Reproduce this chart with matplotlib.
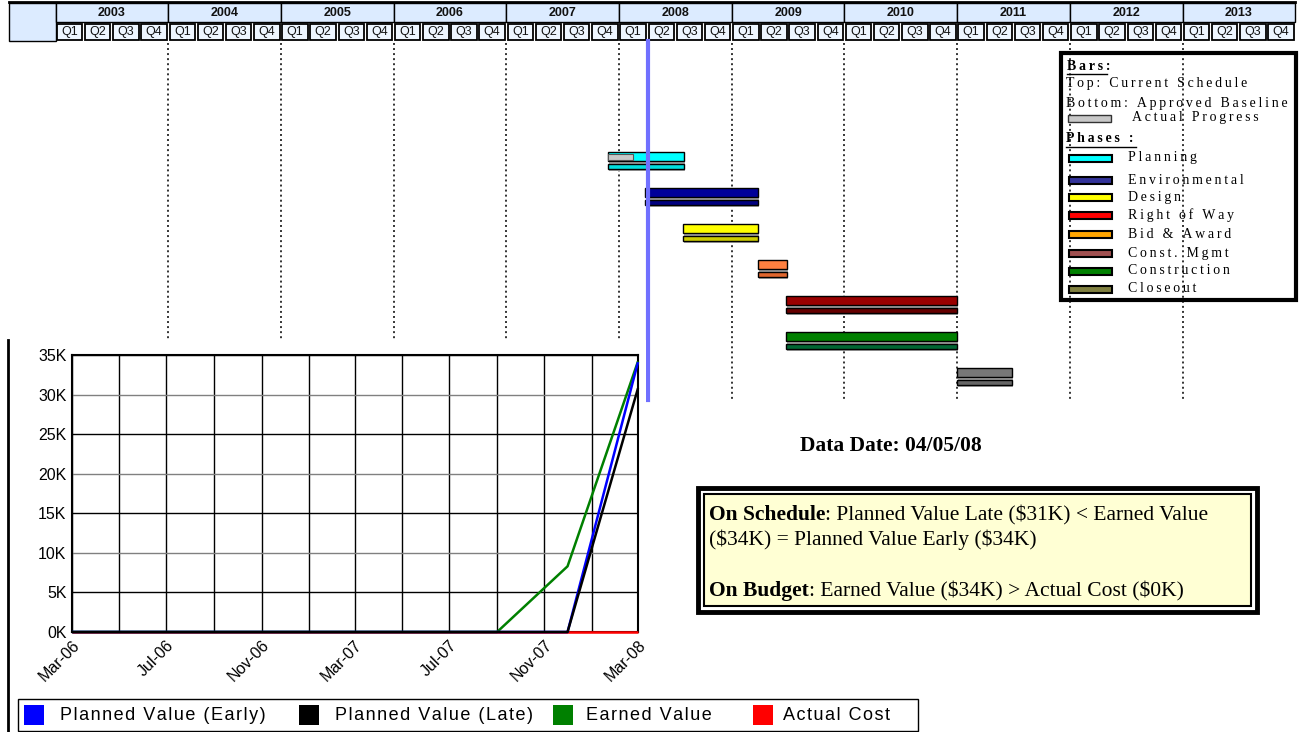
"""Project status dashboard: phase Gantt chart with an earned-value curve."""
import matplotlib

matplotlib.use("Agg")
import matplotlib.dates as mdates
import matplotlib.pyplot as plt
import pandas as pd
from matplotlib.patches import Rectangle
from matplotlib.ticker import FuncFormatter, MultipleLocator

plt.rcParams["text.parse_math"] = False

# ---- timeline -------------------------------------------------------------
TIMELINE_YEARS = list(range(2003, 2014))
QUARTER_LABELS = ["Q1", "Q2", "Q3", "Q4"]
DATA_DATE = "2008-04-05"
DATA_DATE_LABEL = "Data Date: 04/05/08"

# ---- phases (top bar = current schedule, bottom bar = approved baseline) --
PHASES = ["Planning", "Environmental", "Design", "Bid & Award",
          "Const. Mgmt", "Construction", "Closeout"]
CURRENT_START = ["2007-11-25", "2008-03-25", "2008-07-28", "2009-03-28",
                 "2009-06-27", "2009-06-27", "2011-01-01"]
CURRENT_END = ["2008-07-31", "2009-03-28", "2009-03-28", "2009-06-30",
               "2010-12-31", "2010-12-31", "2011-06-27"]
BASELINE_START = ["2007-11-25", "2008-03-25", "2008-07-28", "2009-03-28",
                  "2009-06-27", "2009-06-27", "2011-01-01"]
BASELINE_END = ["2008-07-31", "2009-03-28", "2009-03-28", "2009-06-30",
                "2010-12-31", "2010-12-31", "2011-06-27"]
ACTUAL_START = ["2007-11-25", None, None, None, None, None, None]
ACTUAL_END = ["2008-02-15", None, None, None, None, None, None]
CURRENT_COLORS = ["#00ffff", "#000099", "#ffff00", "#ff8040",
                  "#990000", "#008000", "#777777"]
BASELINE_COLORS = ["#00dede", "#000080", "#cccc00", "#e0662e",
                   "#660000", "#006633", "#666666"]

LEGEND_PHASES = ["Planning", "Environmental", "Design", "Right of Way",
                 "Bid & Award", "Const. Mgmt", "Construction", "Closeout"]
LEGEND_COLORS = ["#00ffff", "#333399", "#ffff00", "#ff0000",
                 "#ffa500", "#a05050", "#008000", "#808040"]

# ---- earned value curve (dollars) -----------------------------------------
EV_DATES = ["2006-03-01", "2007-09-01", "2007-12-01", "2008-03-01"]
EV_VALUES = [0, 0, 8300, 34200]
PV_DATES = ["2006-03-01", "2007-12-01", "2008-03-01"]
PV_EARLY = [0, 0, 34100]
PV_LATE = [0, 0, 30800]
AC_DATES = ["2006-03-01", "2008-03-01"]
AC_VALUES = [0, 0]
CURVE_LABELS = ["Planned Value (Early)", "Planned Value (Late)",
                "Earned Value", "Actual Cost"]
CURVE_COLORS = ["#0000ff", "#000000", "#008000", "#ff0000"]

SUMMARY_LINES = [
    ("On Schedule", ": Planned Value Late ($31K) < Earned Value"),
    ("", "($34K) = Planned Value Early ($34K)"),
    ("On Budget", ": Earned Value ($34K) > Actual Cost ($0K)"),
]

SERIF = ["Liberation Serif", "DejaVu Serif"]
SANS = ["Liberation Sans", "DejaVu Sans"]
NARROW = ["Liberation Sans Narrow", "Liberation Sans", "DejaVu Sans"]

W, H = 1299, 732
YEAR0_PX = 55.5
PX_PER_YEAR = 112.7


def year_frac(date: str) -> float:
    ts = pd.Timestamp(date)
    days = 366 if ts.is_leap_year else 365
    return ts.year + (ts.dayofyear - 1) / days


def spaced(text: str, gap: str = "\u2009") -> str:
    return gap.join(text)


def rect(ax, x0, x1, y0, y1, **kw):
    ax.add_patch(Rectangle((x0, y0), x1 - x0, y1 - y0, **kw))


def draw_header(gantt):
    left = 2003 - (YEAR0_PX - 9) / PX_PER_YEAR
    rect(gantt, left, 2003, 3, 41, fc="#dcebff", ec="black", lw=1)
    for year in TIMELINE_YEARS:
        rect(gantt, year, year + 1, 3, 22, fc="#dcebff", ec="black", lw=1)
        gantt.text(year + 0.5, 12.5, str(year), ha="center", va="center",
                   fontsize=9, fontweight="bold", family=NARROW,
                   color="#111111")
        for q, label in enumerate(QUARTER_LABELS):
            q0 = year + q / 4
            rect(gantt, q0 + 0.012, q0 + 0.238, 24, 40, fc="#eef6ff",
                 ec="black", lw=1.3)
            gantt.text(q0 + 0.125, 32.5, label, ha="center", va="center",
                       fontsize=9, family=SANS, color="#111111")
    gantt.plot([left, 2014], [2, 2], color="black", lw=2)


def draw_gantt(gantt):
    for year in TIMELINE_YEARS[1:]:
        gantt.plot([year, year], [43, 400], color="#333333", lw=1.4,
                   linestyle=(0, (1, 1.6)), zorder=1)
    dd = year_frac(DATA_DATE)
    gantt.plot([dd, dd], [41, 400], color="#7070ff", lw=3, zorder=4)

    shift = 1 / PX_PER_YEAR
    for i, phase in enumerate(PHASES):
        top = 152 + 36 * i
        cs, ce = year_frac(CURRENT_START[i]), year_frac(CURRENT_END[i])
        bs, be = year_frac(BASELINE_START[i]), year_frac(BASELINE_END[i])
        rect(gantt, cs + shift, ce + shift, top + 2, top + 11.5,
             fc="#a8a8a8", ec="none", zorder=2)
        rect(gantt, cs, ce, top, top + 9, fc=CURRENT_COLORS[i],
             ec="black", lw=1, zorder=3)
        if ACTUAL_START[i]:
            rect(gantt, year_frac(ACTUAL_START[i]), year_frac(ACTUAL_END[i]),
                 top + 1.5, top + 7.5, fc="#c8c8c8", ec="#555555", lw=0.8,
                 zorder=3)
        rect(gantt, bs + shift, be + shift, top + 13, top + 18.5,
             fc="#a8a8a8", ec="none", zorder=2)
        rect(gantt, bs, be, top + 12, top + 17, fc=BASELINE_COLORS[i],
             ec="black", lw=1, zorder=3)


def draw_phase_legend(canvas):
    rect(canvas, 1061, 1296, 53, 300, fc="none", ec="black", lw=3)
    canvas.text(1067, 67, spaced("Bars:"), fontsize=10, fontweight="bold",
                family=SERIF, va="center")
    canvas.plot([1067, 1107], [74, 74], color="black", lw=1)
    canvas.text(1066, 84, spaced("Top: Current Schedule"), fontsize=10,
                family=SERIF, va="center")
    canvas.text(1066, 103, spaced("Bottom: Approved Baseline"), fontsize=10,
                family=SERIF, va="center")
    rect(canvas, 1068, 1111, 115, 122, fc="#c8c8c8", ec="#333333", lw=1)
    canvas.text(1132, 118, spaced("Actual Progress"), fontsize=10,
                family=SERIF, va="center")
    canvas.text(1066, 139, spaced("Phases :"), fontsize=10, fontweight="bold",
                family=SERIF, va="center")
    canvas.plot([1066, 1136], [147, 147], color="black", lw=1)
    rows = [158, 180, 197, 215, 234, 253, 271, 289]
    for y, name, color in zip(rows, LEGEND_PHASES, LEGEND_COLORS):
        rect(canvas, 1069, 1112, y - 3.5, y + 3.5, fc=color, ec="black", lw=1.5)
        canvas.text(1128, y, spaced(name), fontsize=10, family=SERIF,
                    va="center")


def draw_summary(canvas):
    canvas.text(891, 446, DATA_DATE_LABEL, fontsize=15.5, fontweight="bold",
                family=SERIF, ha="center", va="center")
    rect(canvas, 698, 1257, 488, 612, fc="white", ec="black", lw=3.5)
    rect(canvas, 704, 1251, 494, 606, fc="#ffffd4", ec="black", lw=1.5)
    for (bold, rest), y in zip(SUMMARY_LINES, [515, 540, 591]):
        if not bold:
            canvas.text(709, y, rest, fontsize=15.5, family=SERIF, va="center")
            continue
        head = canvas.text(709, y, bold, fontsize=15.5, fontweight="bold",
                           family=SERIF, va="center")
        canvas.annotate(rest, xy=(1, 0), xycoords=head, fontsize=15.5,
                        family=SERIF, va="bottom", ha="left")


def draw_curve(fig, canvas):
    rect(canvas, 8, 646, 340, 733, fc="white", ec="none")
    canvas.plot([8, 8], [340, 732], color="black", lw=2)

    ax = fig.add_axes([72 / W, 1 - 632 / H, 566 / W, 277 / H], zorder=3)
    series = [
        (AC_DATES, AC_VALUES, CURVE_COLORS[3]),
        (EV_DATES, EV_VALUES, CURVE_COLORS[2]),
        (PV_DATES, PV_EARLY, CURVE_COLORS[0]),
        (PV_DATES, PV_LATE, CURVE_COLORS[1]),
    ]
    for dates, values, color in series:
        ax.plot(pd.to_datetime(dates), values, color=color, lw=1.8,
                solid_capstyle="butt", clip_on=False, zorder=3)
    ax.set_xlim(pd.Timestamp("2006-03-01"), pd.Timestamp("2008-03-01"))
    ax.set_ylim(0, 35000)
    ax.yaxis.set_major_locator(MultipleLocator(5000))
    ax.yaxis.set_major_formatter(FuncFormatter(lambda v, _: f"{v / 1000:.0f}K"))
    ax.xaxis.set_major_locator(mdates.MonthLocator(bymonth=(3, 7, 11)))
    ax.xaxis.set_minor_locator(mdates.MonthLocator(bymonth=(1, 5, 9)))
    ax.xaxis.set_major_formatter(mdates.DateFormatter("%b-%y"))
    ax.grid(True, which="both", color="black", lw=1)
    for i, line in enumerate(ax.get_ygridlines()):
        if i % 2:
            line.set_color("#808080")
    ax.set_axisbelow(True)
    for spine in ax.spines.values():
        spine.set_linewidth(1.5)
        spine.set_zorder(2)
    ax.tick_params(which="both", length=0, labelsize=11.5, pad=4)
    for label in ax.get_yticklabels():
        label.set_family(SANS)
    for label in ax.get_xticklabels():
        label.set_family(SANS)
        label.set_rotation(45)
        label.set_ha("right")
        label.set_rotation_mode("anchor")

    rect(canvas, 18, 918, 699, 731, fc="white", ec="black", lw=1)
    items = [(24, 60), (299, 335), (553, 586), (753, 783)]
    for (px, tx), name, color in zip(items, CURVE_LABELS, CURVE_COLORS):
        rect(canvas, px, px + 20, 705, 725, fc=color, ec="none")
        canvas.text(tx, 715, spaced(name, "\u200a"), fontsize=13,
                    family=SANS, va="center")


def main():
    fig = plt.figure(figsize=(W / 100, H / 100), dpi=100)

    gantt = fig.add_axes([0, 0, 1, 1], zorder=1)
    gantt.set_xlim(2003 - YEAR0_PX / PX_PER_YEAR,
                   2003 + (W - YEAR0_PX) / PX_PER_YEAR)
    gantt.set_ylim(H, 0)
    gantt.axis("off")

    canvas = fig.add_axes([0, 0, 1, 1], zorder=2)
    canvas.set_xlim(0, W)
    canvas.set_ylim(H, 0)
    canvas.axis("off")
    canvas.patch.set_alpha(0)

    draw_header(gantt)
    draw_gantt(gantt)
    draw_phase_legend(canvas)
    draw_summary(canvas)
    draw_curve(fig, canvas)

    fig.savefig("out.png", dpi=100)
    plt.close(fig)


if __name__ == "__main__":
    main()
